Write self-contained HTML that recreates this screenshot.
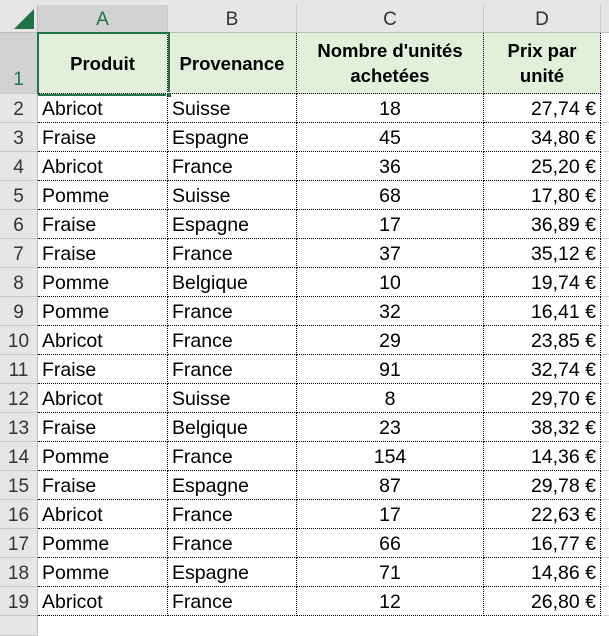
<!DOCTYPE html>
<html><head><meta charset="utf-8"><style>
body{margin:0;width:609px;height:625px;background:#fff;position:relative;overflow:hidden;font-family:"Liberation Sans",Arial,sans-serif;}
.a{position:absolute;box-sizing:border-box;}
.ch{top:5px;height:28px;background:#e6e6e6;border-right:1px solid #c8c8c8;border-bottom:1px solid #bdbdbd;text-align:center;font-size:19px;line-height:29px;color:#333;}
.rh{left:0;width:38px;background:#e6e6e6;border-bottom:1px solid #c8c8c8;border-right:1px solid #bdbdbd;text-align:center;font-size:19px;color:#333;}
.c{font-size:19.5px;color:#000;border-right:1px dotted #000;border-bottom:1px dotted #000;white-space:nowrap;padding:0 4px;}
.h{background:#e2efda;font-weight:bold;font-size:18.5px;display:flex;align-items:center;justify-content:center;text-align:center;line-height:25px;}
</style></head><body>
<div class="a" style="left:0;top:0;width:609px;height:5px;background:#e6e6e6"></div>
<div class="a" style="left:0;top:5px;width:38px;height:28px;background:#e6e6e6;border-right:1px solid #bdbdbd;border-bottom:1px solid #bdbdbd">
<div style="position:absolute;right:3px;bottom:3px;width:0;height:0;border-left:20px solid transparent;border-bottom:20px solid #217346"></div></div>
<div class="a ch" style="left:38px;width:130px;background:#d2d2d2;color:#217346">A</div>
<div class="a ch" style="left:168px;width:129px">B</div>
<div class="a ch" style="left:297px;width:187px">C</div>
<div class="a ch" style="left:484px;width:117px">D</div>
<div class="a ch" style="left:601px;width:20px"></div>
<div class="a rh" style="top:33px;height:61px;background:#d2d2d2;color:#217346;padding-top:36px">1</div>
<div class="a c h" style="left:38px;top:33px;width:130px;height:61px">Produit</div>
<div class="a c h" style="left:168px;top:33px;width:129px;height:61px">Provenance</div>
<div class="a c h" style="left:297px;top:33px;width:187px;height:61px">Nombre d'unités<br>achetées</div>
<div class="a c h" style="left:484px;top:33px;width:117px;height:61px">Prix par<br>unité</div>
<div class="a" style="left:37px;top:32px;width:133px;height:64px;border:2px solid #217346"></div>
<div class="a" style="left:166px;top:92px;width:6px;height:6px;background:#217346;border:1px solid #fff"></div>
<div id="rows"></div>
<script>
const produits=["Abricot","Fraise","Abricot","Pomme","Fraise","Fraise","Pomme","Pomme","Abricot","Fraise","Abricot","Fraise","Pomme","Fraise","Abricot","Pomme","Pomme","Abricot"];
const provenances=["Suisse","Espagne","France","Suisse","Espagne","France","Belgique","France","France","France","Suisse","Belgique","France","Espagne","France","France","Espagne","France"];
const unites=["18","45","36","68","17","37","10","32","29","91","8","23","154","87","17","66","71","12"];
const prix=["27,74 €","34,80 €","25,20 €","17,80 €","36,89 €","35,12 €","19,74 €","16,41 €","23,85 €","32,74 €","29,70 €","38,32 €","14,36 €","29,78 €","22,63 €","16,77 €","14,86 €","26,80 €"];
const root=document.getElementById('rows');
for(let i=0;i<produits.length;i++){
 const top=94+i*29;
 const rh=document.createElement('div');
 rh.className='a rh';rh.style.top=top+'px';rh.style.height='29px';rh.style.lineHeight='31px';rh.textContent=String(i+2);
 
 
 root.appendChild(rh);
 const cols=[[38,130,produits[i],'left'],[168,129,provenances[i],'left'],[297,187,unites[i],'center'],[484,117,prix[i],'right']];
 cols.forEach(c=>{
  const d=document.createElement('div');
  d.className='a c';d.style.left=c[0]+'px';d.style.top=top+'px';d.style.width=c[1]+'px';d.style.height='29px';d.style.lineHeight='31px';d.style.textAlign=c[3];d.textContent=c[2];
  
  
  root.appendChild(d);
 });
 const e=document.createElement('div');
 e.className='a';e.style.cssText='left:601px;top:'+top+'px;width:20px;height:29px;border-bottom:1px solid #d4d4d4';
 
 
 root.appendChild(e);
}
const b=document.createElement('div');
b.className='a rh';b.style.top='616px';b.style.height='20px';


root.appendChild(b);
</script>
</body></html>
